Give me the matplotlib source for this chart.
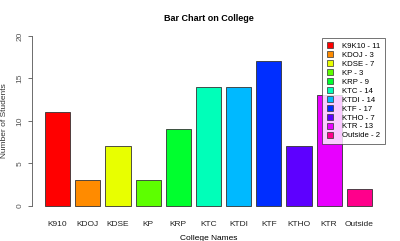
import matplotlib
matplotlib.use("Agg")
import matplotlib.pyplot as plt
import matplotlib.colors as mcolors
from matplotlib.patches import Patch

plt.rcParams['font.family'] = ['Liberation Sans', 'DejaVu Sans']

categories = ["K910", "KDOJ", "KDSE", "KP", "KRP", "KTC", "KTDI", "KTF", "KTHO", "KTR", "Outside"]
legend_labels = ["K9K10 - 11", "KDOJ - 3", "KDSE - 7", "KP - 3", "KRP - 9", "KTC - 14",
                 "KTDI - 14", "KTF - 17", "KTHO - 7", "KTR - 13", "Outside - 2"]
values = [11, 3, 7, 3, 9, 14, 14, 17, 7, 13, 2]
yticks = [0, 5, 10, 15, 20]

n = len(values)
colors = [mcolors.hsv_to_rgb((i / n, 1, 1)) for i in range(n)]

fig = plt.figure(figsize=(4.0, 2.41), dpi=100)
ax = fig.add_axes([0.08, 0.117, 0.8825, 0.762])

xs = [0.2 + i * 1.2 + 0.5 for i in range(n)]
ax.bar(xs, values, width=1.0, color=colors, edgecolor="#333333", linewidth=0.6)
ax.set_xlim(-0.32, 13.72)
ax.set_ylim(-0.8, 20.8)

for s in ["top", "right", "bottom"]:
    ax.spines[s].set_visible(False)
ax.spines["left"].set_bounds(0, 20)
ax.spines["left"].set_linewidth(0.6)
ax.spines["left"].set_color("#555555")
ax.set_yticks(yticks)
ax.set_yticklabels([str(v) for v in yticks], rotation=90, va="center", fontsize=6, color="#555555")
ax.tick_params(axis="y", length=3, width=0.6, color="#555555", pad=3)
ax.set_xticks(xs)
ax.set_xticklabels(categories, fontsize=6, color="#222222")
ax.tick_params(axis="x", length=0, pad=6)

ax.set_title("Bar Chart on College", fontsize=6.5, fontweight="bold", pad=6)
ax.set_xlabel("College Names", fontsize=6, labelpad=5)
ax.set_ylabel("Number of Students", fontsize=6, labelpad=6, color="#333333")

handles = [Patch(facecolor=c, edgecolor="#333333", linewidth=0.5) for c in colors]
leg = ax.legend(handles, legend_labels, loc="upper right", bbox_to_anchor=(1.0, 0.953),
                fontsize=5.6, frameon=True, fancybox=False, borderpad=0.6,
                labelspacing=0.16, handlelength=0.8, handleheight=0.8, handletextpad=1.2,
                borderaxespad=0.0)
leg.get_frame().set_edgecolor("#333333")
leg.get_frame().set_linewidth(0.6)

fig.savefig("out.png", dpi=100)
